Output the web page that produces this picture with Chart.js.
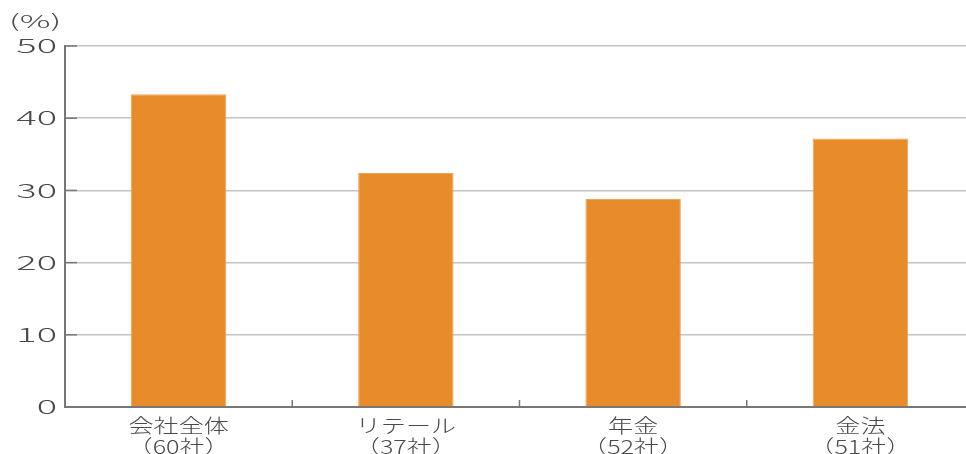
<!DOCTYPE html>
<html>
<head>
<meta charset="utf-8">
<script src="https://cdn.jsdelivr.net/npm/chart.js@4/dist/chart.umd.min.js"></script>
<style>
  html, body { margin: 0; padding: 0; background: #fff; overflow: hidden; }
  #wrap { position: relative; width: 974px; height: 454px; }
</style>
</head>
<body>
<div id="wrap"><canvas id="chart"></canvas></div>
<script>
// categories and company counts
const categories = ["会社全体", "リテール", "年金", "金法"];
const counts = ["（60社）", "（37社）", "（52社）", "（51社）"];
const values = [43.3, 32.4, 28.8, 37.2];
const yTicks = [0, 10, 20, 30, 40, 50];

const FONT = '"Noto Sans CJK JP", "Noto Sans", sans-serif';

// text in the wide, light typeface of the print version
function wideText(ctx, str, x, y, size, sx, align) {
    ctx.save();
    ctx.font = "300 " + size + "px " + FONT;
    ctx.textBaseline = "middle";
    ctx.textAlign = align;
    ctx.translate(x, y);
    ctx.scale(sx, 1);
    ctx.fillText(str, 0, 0);
    ctx.restore();
}

// short inner ticks on both axes, tick labels and the unit label
const axisDecor = {
    id: "axisDecor",
    afterDraw(chart) {
        const ctx = chart.ctx;
        const x = chart.scales.x, y = chart.scales.y;
        const area = chart.chartArea;
        ctx.save();
        ctx.strokeStyle = "#777";
        ctx.lineWidth = 1.5;
        yTicks.forEach(v => {
            const py = y.getPixelForValue(v);
            ctx.beginPath();
            ctx.moveTo(area.left, py);
            ctx.lineTo(area.left + 12, py);
            ctx.stroke();
        });
        for (let i = 1; i < categories.length; i++) {
            const px = (x.getPixelForValue(i - 1) + x.getPixelForValue(i)) / 2;
            ctx.beginPath();
            ctx.moveTo(px, area.bottom);
            ctx.lineTo(px, area.bottom - 7);
            ctx.stroke();
        }
        ctx.fillStyle = "#4a4a4a";
        yTicks.forEach(v => {
            wideText(ctx, String(v), area.left - 8, y.getPixelForValue(v), 19, 2.0, "right");
        });
        categories.forEach((c, i) => {
            const px = x.getPixelForValue(i);
            wideText(ctx, c, px, area.bottom + 19, 19, 1.32, "center");
            wideText(ctx, counts[i], px, area.bottom + 40, 19, 1.32, "center");
        });
        wideText(ctx, "(%)", 9, 21, 18, 1.9, "left");
        ctx.restore();
    }
};

new Chart(document.getElementById("chart"), {
    type: "bar",
    data: {
        labels: categories,
        datasets: [{
            data: values,
            backgroundColor: "#E88B2B",
            borderColor: "#EFA65A",
            borderWidth: 1,
            barPercentage: 0.42,
            categoryPercentage: 1
        }]
    },
    options: {
        responsive: true,
        maintainAspectRatio: false,
        animation: false,
        layout: { padding: { top: 46, right: 0, left: 0, bottom: 0 } },
        plugins: { legend: { display: false }, tooltip: { enabled: false } },
        scales: {
            x: {
                grid: { display: false, drawTicks: false },
                border: { color: "#777", width: 2 },
                ticks: { display: false },
                afterFit: s => { s.height = 47; }
            },
            y: {
                min: 0,
                max: 50,
                afterBuildTicks: s => { s.ticks = yTicks.map(v => ({ value: v })); },
                grid: { color: "#c4c4c4", lineWidth: 1.5, drawTicks: false },
                border: { color: "#777", width: 2 },
                ticks: { display: false },
                afterFit: s => { s.width = 65; }
            }
        }
    },
    plugins: [axisDecor]
});
</script>
</body>
</html>
